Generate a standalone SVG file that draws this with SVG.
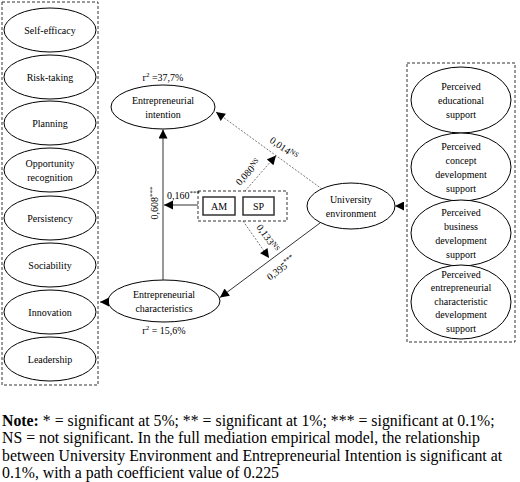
<svg xmlns="http://www.w3.org/2000/svg" width="520" height="482" viewBox="0 0 520 482">
<defs>
<style>
text{font-family:"Liberation Serif","Times New Roman",serif;fill:#000}
.n{font-size:10px;text-anchor:middle}
.l{font-size:10px}
.sup{font-size:7px}
.note{font-size:15.8px}
.node{fill:#fff;stroke:#000;stroke-width:1}
.dbox{fill:none;stroke:#333;stroke-width:1;stroke-dasharray:3,2}
.solid{stroke:#333;stroke-width:1;fill:none}
.dot{stroke:#555;stroke-width:0.8;stroke-dasharray:2,1.5;fill:none}
</style>
<marker id="ah" viewBox="0 0 10 10" refX="10" refY="5" markerWidth="10" markerHeight="9" markerUnits="userSpaceOnUse" orient="auto">
<path d="M0,0 L10,5 L0,10 z" fill="#000"/>
</marker>
</defs>
<rect width="520" height="482" fill="#fff"/>

<rect class="dbox" x="2" y="2" width="96" height="383"/>
<rect class="dbox" x="407" y="63" width="108" height="279"/>

<g id="self-efficacy"><ellipse class="node" cx="50" cy="30" rx="46" ry="22"/><text class="n" x="50" y="33.5">Self-efficacy</text></g>
<g id="risk-taking"><ellipse class="node" cx="50" cy="77" rx="46" ry="22"/><text class="n" x="50" y="80.5">Risk-taking</text></g>
<g id="planning"><ellipse class="node" cx="50" cy="123" rx="46" ry="22"/><text class="n" x="50" y="126.5">Planning</text></g>
<g id="opportunity"><ellipse class="node" cx="50" cy="170" rx="46" ry="22"/><text class="n" x="50" y="166.5">Opportunity</text><text class="n" x="50" y="180.5">recognition</text></g>
<g id="persistency"><ellipse class="node" cx="50" cy="218" rx="46" ry="22"/><text class="n" x="50" y="221.5">Persistency</text></g>
<g id="sociability"><ellipse class="node" cx="50" cy="265" rx="46" ry="22"/><text class="n" x="50" y="268.5">Sociability</text></g>
<g id="innovation"><ellipse class="node" cx="50" cy="312" rx="46" ry="22"/><text class="n" x="50" y="315.5">Innovation</text></g>
<g id="leadership"><ellipse class="node" cx="50" cy="359" rx="46" ry="22"/><text class="n" x="50" y="362.5">Leadership</text></g>

<g id="edu-support"><ellipse class="node" cx="461" cy="100" rx="50" ry="33"/><text class="n" x="461" y="89.5">Perceived</text><text class="n" x="461" y="103.5">educational</text><text class="n" x="461" y="117.5">support</text></g>
<g id="concept-support"><ellipse class="node" cx="461" cy="167" rx="50" ry="34"/><text class="n" x="461" y="149.5">Perceived</text><text class="n" x="461" y="163.5">concept</text><text class="n" x="461" y="177.5">development</text><text class="n" x="461" y="191.5">support</text></g>
<g id="business-support"><ellipse class="node" cx="461" cy="233" rx="50" ry="33"/><text class="n" x="461" y="215.5">Perceived</text><text class="n" x="461" y="229.5">business</text><text class="n" x="461" y="243.5">development</text><text class="n" x="461" y="257.5">support</text></g>
<g id="ec-support"><ellipse class="node" cx="461" cy="302" rx="50" ry="37"/><text class="n" x="461" y="277.5">Perceived</text><text class="n" x="461" y="291">entrepreneurial</text><text class="n" x="461" y="304.5">characteristic</text><text class="n" x="461" y="318">development</text><text class="n" x="461" y="331.5">support</text></g>

<g id="intention"><ellipse class="node" cx="163" cy="107" rx="52" ry="22"/><text class="n" x="163" y="103.5">Entrepreneurial</text><text class="n" x="163" y="117.5">intention</text><text class="n" x="163" y="81">r<tspan class="sup" dy="-4">2</tspan><tspan dy="4"> =37,7%</tspan></text></g>
<g id="characteristics"><ellipse class="node" cx="164" cy="301" rx="56" ry="21"/><text class="n" x="164" y="297.5">Entrepreneurial</text><text class="n" x="164" y="311.5">characteristics</text><text class="n" x="164" y="334">r<tspan class="sup" dy="-4">2</tspan><tspan dy="4"> = 15,6%</tspan></text></g>
<g id="university"><ellipse class="node" cx="351" cy="206" rx="44" ry="23"/><text class="n" x="351" y="202.5">University</text><text class="n" x="351" y="216.5">environment</text></g>
<g id="moderators">
<rect class="dbox" x="198" y="191" width="89" height="30"/>
<rect x="203" y="197" width="32" height="18" fill="#fff" stroke="#333" stroke-width="1.5"/>
<text class="n" x="219" y="209.5">AM</text>
<rect x="243" y="197" width="31" height="18" fill="#fff" stroke="#333" stroke-width="1.5"/>
<text class="n" x="258.5" y="209.5">SP</text>
</g>

<g id="connectors">
<line class="solid" x1="163" y1="280" x2="163" y2="129.5" marker-end="url(#ah)"/>
<line class="solid" x1="198" y1="205" x2="164" y2="205" marker-end="url(#ah)"/>
<line class="solid" x1="320" y1="223" x2="220" y2="297.5" marker-end="url(#ah)"/>
<line class="dot" x1="322" y1="189" x2="216" y2="112" marker-end="url(#ah)"/>
<line class="dot" x1="245" y1="191" x2="276" y2="155.5" marker-end="url(#ah)"/>
<line class="dot" x1="243" y1="221" x2="269" y2="258" marker-end="url(#ah)"/>
<line class="solid" x1="108" y1="302" x2="100" y2="302" marker-end="url(#ah)"/>
<line class="dot" x1="407" y1="206" x2="395" y2="206" marker-end="url(#ah)"/>

<text class="l" transform="translate(157.5,203) rotate(-90)" text-anchor="middle">0,608<tspan class="sup" dy="-4">***</tspan></text>
<text class="l" x="167" y="199">0,160<tspan class="sup" dy="-4">***</tspan></text>
<text class="l" transform="translate(284,148) rotate(35)" text-anchor="middle" y="3.5">0,014<tspan class="sup" dy="-3">NS</tspan></text>
<text class="l" transform="translate(248,172) rotate(-48)" text-anchor="middle" y="3.5">0,080<tspan class="sup" dy="-3">NS</tspan></text>
<text class="l" transform="translate(268,238) rotate(55)" text-anchor="middle" y="3.5">0,133<tspan class="sup" dy="-3">NS</tspan></text>
<text class="l" transform="translate(281,268) rotate(-37)" text-anchor="middle" y="3.5">0,395<tspan class="sup" dy="-4">***</tspan></text>
</g>

<g id="note">
<text class="note" x="2" y="425.5"><tspan font-weight="bold">Note:</tspan> * = significant at 5%; ** = significant at 1%; *** = significant at 0.1%;</text>
<text class="note" x="2" y="443">NS = not significant. In the full mediation empirical model, the relationship</text>
<text class="note" x="2" y="460.5">between University Environment and Entrepreneurial Intention is significant at</text>
<text class="note" x="2" y="478">0.1%, with a path coefficient value of 0.225</text>
</g>
</svg>
